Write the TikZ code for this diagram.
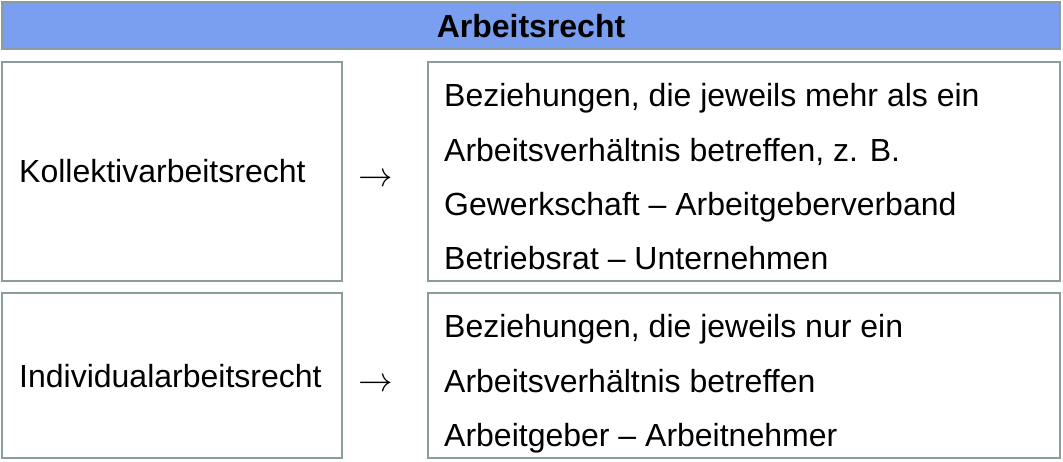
\documentclass[tikz,border=0pt]{standalone}
\usepackage{fontspec}
\usepackage{graphicx}
\setmainfont{Liberation Sans}
\definecolor{barblue}{RGB}{122,159,240}
\definecolor{edgegray}{RGB}{138,156,156}
\begin{document}
\begin{tikzpicture}[x=1pt,y=-1pt,
  panel/.style={draw=edgegray,line width=1.6pt,fill=white},
  bar/.style={draw=edgegray,line width=1.6pt,fill=barblue},
  txt/.style={inner sep=0pt,anchor=base west,font=\fontsize{32}{38}\selectfont},
  ttl/.style={inner sep=0pt,anchor=center,font=\fontsize{32}{38}\selectfont\bfseries},
  arr/.style={inner sep=0pt,anchor=center}]
\useasboundingbox (0,0) rectangle (1063,461);
% title bar
\path[bar] (2,2) rectangle (1060,49);
\node[ttl] (title) at (531,26) {Arbeitsrecht};
% boxes
\path[panel] (2,62) rectangle (342,281);
\path[panel] (428,62) rectangle (1060,281);
\path[panel] (2,293) rectangle (342,458);
\path[panel] (428,293) rectangle (1060,458);
% left labels
\node[txt] (kol) at (19,182) {Kollektivarbeitsrecht};
\node[txt] (ind) at (19,387) {Individualarbeitsrecht};
% arrows
\node[arr] (a1) at (375.5,180) {\scalebox{3.45}{$\rightarrow$}};
\node[arr] (a2) at (375.5,385) {\scalebox{3.45}{$\rightarrow$}};
% right texts
\node[txt] (r11) at (444,106) {Beziehungen, die jeweils mehr als ein};
\node[txt] (r12) at (444,161) {Arbeitsverhältnis betreffen, z. B.};
\node[txt] (r13) at (444,215) {Gewerkschaft – Arbeitgeberverband};
\node[txt] (r14) at (444,269) {Betriebsrat – Unternehmen};
\node[txt] (r21) at (444,337) {Beziehungen, die jeweils nur ein};
\node[txt] (r22) at (444,392) {Arbeitsverhältnis betreffen};
\node[txt] (r23) at (444,446) {Arbeitgeber – Arbeitnehmer};
\end{tikzpicture}
\end{document}
